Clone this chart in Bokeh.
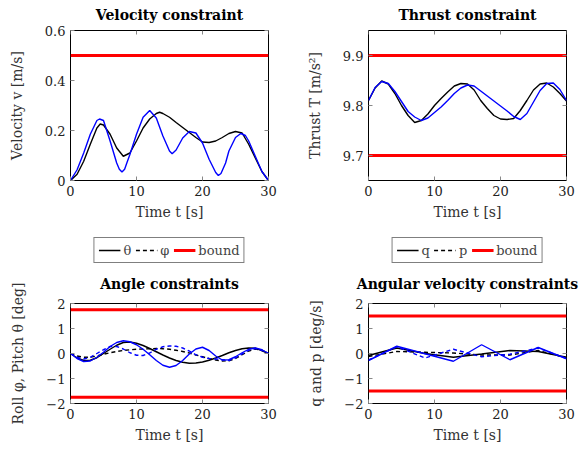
from bokeh.plotting import figure
from bokeh.layouts import column, row
from bokeh.models import Legend, LegendItem, Title, FixedTicker, LinearAxis, Range1d
from bokeh.embed import file_html
from bokeh.resources import INLINE

FONT = "DejaVu Serif"

# ---------------- data ----------------
x_ticks = [0, 10, 20, 30]

# Velocity constraint
t_vel_black = [0, 1, 2, 3, 4, 4.5, 5, 6, 7, 8, 9, 10, 11, 12, 13, 13.5, 14, 15, 16, 17, 18, 19, 20, 21, 22, 23, 24, 25, 26, 27, 28, 29, 30]
vel_black = [0, 0.025, 0.077, 0.145, 0.21, 0.226, 0.222, 0.185, 0.13, 0.097, 0.11, 0.158, 0.21, 0.246, 0.268, 0.273, 0.268, 0.253, 0.232, 0.212, 0.192, 0.172, 0.154, 0.152, 0.158, 0.172, 0.188, 0.196, 0.19, 0.145, 0.09, 0.036, 0]
t_vel_blue = [0, 1, 2, 3, 4, 4.4, 5, 6, 7, 7.4, 7.8, 8.2, 8.6, 9, 10, 11, 12, 13, 14, 15, 15.4, 16, 17, 18, 19, 20, 21, 22, 22.4, 22.8, 23.5, 24, 25, 25.8, 26.5, 27, 28, 29, 30]
vel_blue = [0, 0.043, 0.11, 0.185, 0.24, 0.246, 0.24, 0.158, 0.07, 0.045, 0.034, 0.045, 0.075, 0.104, 0.185, 0.253, 0.28, 0.25, 0.178, 0.118, 0.107, 0.122, 0.17, 0.196, 0.19, 0.15, 0.085, 0.032, 0.02, 0.028, 0.07, 0.118, 0.172, 0.188, 0.18, 0.158, 0.097, 0.036, 0]
vel_bound = 0.5
vel_ticks = [0, 0.2, 0.4, 0.6]

# Thrust constraint
t_thr = [0, 1, 2, 3, 4, 5, 6, 7, 8, 9, 10, 11, 12, 13, 14, 15, 16, 17, 18, 19, 20, 21, 22, 23, 24, 25, 26, 27, 28, 29, 30]
thr_black = [9.81, 9.835, 9.849, 9.843, 9.824, 9.800, 9.780, 9.766, 9.770, 9.783, 9.800, 9.814, 9.827, 9.839, 9.844, 9.843, 9.831, 9.810, 9.794, 9.780, 9.773, 9.772, 9.774, 9.790, 9.810, 9.831, 9.843, 9.845, 9.837, 9.824, 9.809]
thr_blue = [9.81, 9.836, 9.848, 9.844, 9.828, 9.808, 9.788, 9.777, 9.770, 9.775, 9.786, 9.797, 9.810, 9.824, 9.835, 9.841, 9.839, 9.829, 9.819, 9.809, 9.799, 9.789, 9.778, 9.772, 9.784, 9.807, 9.830, 9.844, 9.845, 9.832, 9.81]
thr_bounds = [9.7, 9.9]
thr_ticks = [9.7, 9.8, 9.9]

# Angle constraints
t_ang = [0, 1, 2, 3, 4, 5, 6, 7, 8, 9, 10, 11, 12, 13, 14, 15, 16, 17, 18, 19, 20, 21, 22, 23, 24, 25, 26, 27, 28, 29, 30]
theta_black = [0, -0.18, -0.28, -0.27, -0.17, 0.0, 0.17, 0.33, 0.44, 0.46, 0.41, 0.32, 0.2, 0.07, -0.06, -0.18, -0.28, -0.35, -0.39, -0.38, -0.34, -0.27, -0.18, -0.08, 0.03, 0.12, 0.19, 0.22, 0.21, 0.12, 0]
phi_black = [0, -0.1, -0.15, -0.15, -0.1, -0.03, 0.03, 0.08, 0.12, 0.15, 0.17, 0.18, 0.19, 0.2, 0.19, 0.17, 0.13, 0.08, 0.02, -0.06, -0.13, -0.2, -0.26, -0.3, -0.29, -0.2, -0.05, 0.1, 0.18, 0.12, 0]
theta_blue = [0, -0.2, -0.32, -0.3, -0.15, 0.05, 0.28, 0.44, 0.51, 0.47, 0.35, 0.17, -0.05, -0.28, -0.47, -0.55, -0.48, -0.28, -0.02, 0.18, 0.25, 0.12, -0.1, -0.26, -0.25, -0.13, 0.03, 0.17, 0.22, 0.15, 0]
phi_blue = [0, -0.15, -0.22, -0.15, 0.0, 0.15, 0.28, 0.28, 0.18, 0.03, -0.07, -0.08, 0.02, 0.17, 0.27, 0.3, 0.29, 0.22, 0.1, -0.05, -0.15, -0.2, -0.22, -0.25, -0.28, -0.18, -0.02, 0.13, 0.2, 0.13, 0]
ang_bound = 1.75
ang_ticks = [-2, -1, 0, 1, 2]

# Angular velocity constraints
t_rate = [0, 4.29, 8.57, 12.86, 17.14, 21.43, 25.71, 30]
q_black = [-0.08, 0.22, 0.0, -0.15, -0.02, 0.12, 0.08, -0.15]
p_black = [-0.12, 0.08, 0.05, 0.02, -0.06, -0.06, 0.12, -0.17]
q_blue = [-0.28, 0.29, -0.01, -0.31, 0.35, -0.25, 0.24, -0.21]
p_blue = [-0.26, 0.27, -0.18, 0.17, -0.13, -0.03, 0.22, -0.2]
rate_bound = 1.5
rate_ticks = [-2, -1, 0, 1, 2]

BLUE = "#0000ff"
RED = "#ff0000"
TICK_COL = "#888888"
LABEL_COL = "#333333"
LW = 1.4
RLW = 3
DASH = "4 3"
FS = "13px"
FS_LABEL = "14px"
FS_TITLE = "14px"


def make_fig(width, height, bl, br, bt, bb, yr, yticks, ylabel, overrides):
    p = figure(width=width, height=height, x_range=Range1d(0, 30), y_range=Range1d(*yr),
               output_backend="svg", toolbar_location=None, title=None,
               min_border_left=bl, min_border_right=br, min_border_top=bt, min_border_bottom=bb)
    p.grid.visible = False
    p.outline_line_color = "black"
    p.outline_line_width = 1
    xa = p.xaxis[0]
    ya = p.yaxis[0]
    xa.ticker = FixedTicker(ticks=x_ticks)
    ya.ticker = FixedTicker(ticks=yticks)
    xa.axis_label = "Time t [s]"
    ya.axis_label = ylabel
    ya.major_label_overrides = overrides
    for ax in (xa, ya):
        ax.axis_line_color = None
        ax.major_tick_in = 4
        ax.major_tick_out = 0
        ax.major_tick_line_color = TICK_COL
        ax.minor_tick_line_color = None
        ax.major_label_text_font = FONT
        ax.major_label_text_font_size = FS
        ax.major_label_text_color = "#222222"
        ax.axis_label_text_font = FONT
        ax.axis_label_text_font_size = FS_LABEL
        ax.axis_label_text_font_style = "normal"
        ax.axis_label_text_color = LABEL_COL
    xa.major_label_standoff = 5
    xa.axis_label_standoff = 5
    ya.major_label_standoff = 5
    ya.axis_label_standoff = 17
    # mirrored ticks on the right edge
    ra = LinearAxis(ticker=FixedTicker(ticks=yticks), major_label_text_font_size="0px",
                    major_label_text_color=None,
                    axis_line_color=None, major_tick_in=4, major_tick_out=0,
                    major_tick_line_color=TICK_COL, minor_tick_line_color=None, major_label_standoff=0)
    p.add_layout(ra, "right")
    # mirrored ticks on the top edge (short screen-length rays hanging from the top of the range)
    p.ray(x=x_ticks, y=[yr[1]] * len(x_ticks), length=4, length_units="screen",
          angle=-90, angle_units="deg", line_color=TICK_COL, line_width=1)
    return p


def add_title(p, text, standoff):
    p.add_layout(Title(text=text, align="center", vertical_align="top", text_font=FONT,
                       text_font_size=FS_TITLE, text_font_style="bold", text_color="black",
                       standoff=standoff), "above")


def legend_fig(width, bl, br, labels, t, s1, s2, bound):
    # legend-only strip; its lines sit outside the visible range, only their legend glyphs show
    lf = figure(width=width, height=40, output_backend="svg", toolbar_location=None, title=None,
                x_axis_location=None, y_axis_location=None,
                x_range=Range1d(-200, -199), y_range=Range1d(-200, -199),
                min_border_left=bl, min_border_right=br, min_border_top=10, min_border_bottom=0)
    lf.grid.visible = False
    lf.outline_line_color = None
    r1 = lf.line(t, s1, line_color="black", line_width=LW)
    r2 = lf.line(t, s2, line_color="black", line_width=LW, line_dash=DASH)
    r3 = lf.line([t[0], t[-1]], [bound, bound], line_color=RED, line_width=RLW)
    lg = Legend(items=[LegendItem(label=labels[0], renderers=[r1]),
                       LegendItem(label=labels[1], renderers=[r2]),
                       LegendItem(label=labels[2], renderers=[r3])],
                orientation="horizontal", location="center",
                label_text_font=FONT, label_text_font_size=FS,
                glyph_width=22, glyph_height=16, label_height=16, label_width=4,
                label_standoff=3, spacing=4, padding=4, margin=0,
                border_line_color="black", border_line_width=1)
    lf.add_layout(lg, "center")
    return lf


# ---- Velocity ----
p1 = make_fig(290, 225, 70, 22, 30, 45, (0, 0.6), vel_ticks, "Velocity v [m/s]", {0: "0"})
p1.line([0, 30], [vel_bound, vel_bound], line_color=RED, line_width=RLW)
p1.line(t_vel_black, vel_black, line_color="black", line_width=LW)
p1.line(t_vel_blue, vel_blue, line_color=BLUE, line_width=LW)
add_title(p1, "Velocity constraint", 11)

# ---- Thrust ----
p2 = make_fig(291, 225, 78, 15, 30, 45, (9.65, 9.95), thr_ticks, "Thrust T [m/s²]", {})
for b in thr_bounds:
    p2.line([0, 30], [b, b], line_color=RED, line_width=RLW)
p2.line(t_thr, thr_black, line_color="black", line_width=LW)
p2.line(t_thr, thr_blue, line_color=BLUE, line_width=LW)
add_title(p2, "Thrust constraint", 11)

neg = {-2: "\u22122", -1: "\u22121"}

# ---- legends ----
l3 = legend_fig(290, 70, 22, ["θ", "φ", "bound"], t_ang, theta_black, phi_black, ang_bound)
l4 = legend_fig(291, 78, 15, ["q", "p", "bound"], t_rate, q_black, p_black, rate_bound)

# ---- Angles ----
p3 = make_fig(290, 185, 70, 22, 38, 47, (-2, 2), ang_ticks, "Roll φ, Pitch θ [deg]", neg)
p3.line([0, 30], [ang_bound, ang_bound], line_color=RED, line_width=RLW)
p3.line([0, 30], [-ang_bound, -ang_bound], line_color=RED, line_width=RLW)
p3.line(t_ang, theta_black, line_color="black", line_width=LW)
p3.line(t_ang, phi_black, line_color="black", line_width=LW, line_dash=DASH)
p3.line(t_ang, theta_blue, line_color=BLUE, line_width=LW)
p3.line(t_ang, phi_blue, line_color=BLUE, line_width=LW, line_dash=DASH)
add_title(p3, "Angle constraints", 20)

# ---- Angular velocity ----
p4 = make_fig(291, 185, 78, 15, 38, 47, (-2, 2), rate_ticks, "q and p [deg/s]", neg)
p4.line([0, 30], [rate_bound, rate_bound], line_color=RED, line_width=RLW)
p4.line([0, 30], [-rate_bound, -rate_bound], line_color=RED, line_width=RLW)
p4.line(t_rate, q_black, line_color="black", line_width=LW)
p4.line(t_rate, p_black, line_color="black", line_width=LW, line_dash=DASH)
p4.line(t_rate, q_blue, line_color=BLUE, line_width=LW)
p4.line(t_rate, p_blue, line_color=BLUE, line_width=LW, line_dash=DASH)
add_title(p4, "Angular velocity constraints", 20)

layout = column(row(p1, p2), row(l3, l4), row(p3, p4))
open("out.html", "w").write(file_html(layout, INLINE))
